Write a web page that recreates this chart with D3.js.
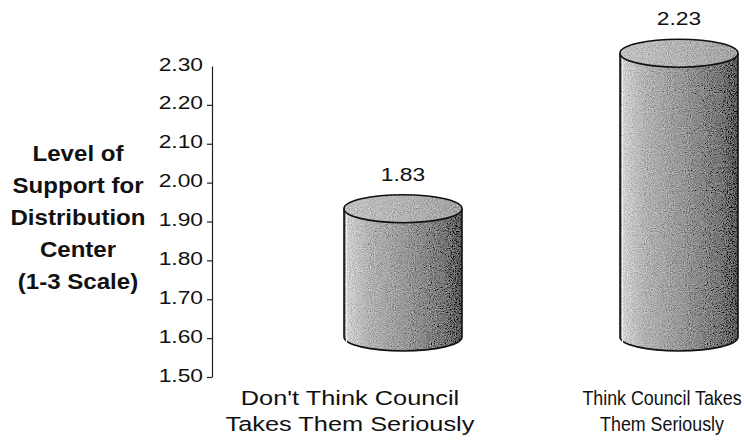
<!DOCTYPE html>
<html>
<head>
<meta charset="utf-8">
<script src="https://cdn.jsdelivr.net/npm/d3@7"></script>
<style>
  html, body { margin: 0; padding: 0; background: #fff; }
  svg { display: block; }
  text { font-family: "Liberation Sans", Arial, sans-serif; fill: #111; }
</style>
</head>
<body>
<script>
// Chart data
const categories = ["dont", "think"];
const categoryLines = [
  ["Don't Think Council", "Takes Them Seriously"],
  ["Think Council Takes", "Them Seriously"]
];
const values = [1.83, 2.23];
const yTicks = [1.5, 1.6, 1.7, 1.8, 1.9, 2.0, 2.1, 2.2, 2.3];
const titleLines = ["Level of", "Support for", "Distribution", "Center", "(1-3 Scale)"];

// Layout / style
const W = 744, H = 444;
const stretch = 1.2;             // wide lettering of the original typeface
const catStretch = [1.3, 0.87];  // category captions, the right one squeezed to fit the page
const catSize = [19.5, 20.5];
const depth = 40;                // 3-D floor sits behind the axis plane
const barWidth = 118;
const capRy = 14;

const svg = d3.select("body").append("svg")
  .attr("width", W).attr("height", H);

const defs = svg.append("defs");

// side shading of the cylinders
const body = defs.append("linearGradient").attr("id", "bodyGrad")
  .attr("x1", "0").attr("x2", "1").attr("y1", "0").attr("y2", "0");
[[0, "#6a6a6a"], [0.03, "#d0d0d0"], [0.2, "#b4b4b4"], [0.55, "#969696"], [0.85, "#767676"], [1, "#585858"]]
  .forEach(([o, c]) => body.append("stop").attr("offset", o).attr("stop-color", c));

const cap = defs.append("linearGradient").attr("id", "capGrad")
  .attr("x1", "0").attr("x2", "1").attr("y1", "0").attr("y2", "0");
[[0, "#c2c2c2"], [0.5, "#b4b4b4"], [1, "#a4a4a4"]]
  .forEach(([o, c]) => cap.append("stop").attr("offset", o).attr("stop-color", c));

// printed grain on the cylinder surfaces
const grain = defs.append("filter").attr("id", "grain")
  .attr("x", "0").attr("y", "0").attr("width", "100%").attr("height", "100%");
grain.append("feTurbulence").attr("type", "fractalNoise")
  .attr("baseFrequency", "0.95").attr("numOctaves", 2).attr("seed", 7).attr("result", "n");
grain.append("feColorMatrix").attr("in", "n").attr("type", "matrix")
  .attr("values", "0.33 0.33 0.33 0 0 0.33 0.33 0.33 0 0 0.33 0.33 0.33 0 0 0 0 0 0 1")
  .attr("result", "g");
grain.append("feComposite").attr("in", "SourceGraphic").attr("in2", "g")
  .attr("operator", "arithmetic")
  .attr("k1", 0).attr("k2", 1).attr("k3", 1.2).attr("k4", -0.6).attr("result", "m");
grain.append("feComposite").attr("in", "m").attr("in2", "SourceGraphic").attr("operator", "in");

// Scales
const y = d3.scaleLinear().domain([1.5, 2.3]).range([377, 66]);
const x = d3.scalePoint().domain(categories).range([403, 679]);
const xLabel = d3.scalePoint().domain(categories).range([350, 662]);

// Value axis
const axisX = 212;
const axis = svg.append("g")
  .attr("transform", `translate(${axisX},0)`)
  .call(d3.axisLeft(y).tickValues(yTicks).tickFormat(d3.format(".2f"))
    .tickSize(5).tickSizeOuter(0));
axis.select(".domain").attr("stroke", "#222").attr("stroke-width", 1.2);
axis.selectAll(".tick line").attr("stroke", "#222").attr("stroke-width", 1.2)
  .attr("display", d => d === 2.3 ? "none" : null);
axis.selectAll(".tick text")
  .attr("x", null).attr("dy", null)
  .attr("transform", `translate(-9,4) scale(${stretch},1)`)
  .attr("text-anchor", "end")
  .attr("font-size", 19)
  .attr("fill", "#111");

// Axis title
const title = svg.append("g").attr("transform", "translate(78,0)");
title.selectAll("text").data(titleLines).join("text")
  .attr("transform", (d, i) => `translate(0,${161 + i * 32}) scale(1.12,1)`)
  .attr("text-anchor", "middle")
  .attr("font-size", 21.5)
  .attr("font-weight", "bold")
  .text(d => d);

// Cylinders
const bars = svg.selectAll("g.bar").data(values).join("g")
  .attr("class", "bar")
  .attr("transform", (d, i) => `translate(${x(categories[i])},0)`);

const rx = barWidth / 2;
const baseY = y(1.5) - depth;

bars.append("path")
  .attr("d", d => {
    const top = y(d) - depth;
    return `M${-rx},${top} L${-rx},${baseY} A${rx},${capRy} 0 0 0 ${rx},${baseY} L${rx},${top} Z`;
  })
  .attr("fill", "url(#bodyGrad)")
  .attr("filter", "url(#grain)");

// outline of the sides and lower rim
bars.append("path")
  .attr("d", d => {
    const top = y(d) - depth;
    return `M${-rx},${top} L${-rx},${baseY} A${rx},${capRy} 0 0 0 ${rx},${baseY} L${rx},${top}`;
  })
  .attr("fill", "none").attr("stroke", "#111").attr("stroke-width", 1.6);

// highlight along the left rim
bars.append("line")
  .attr("x1", -rx + 2.5).attr("x2", -rx + 2.5)
  .attr("y1", d => y(d) - depth + 4).attr("y2", baseY + 6)
  .attr("stroke", "#f0f0f0").attr("stroke-width", 1.2);

bars.append("ellipse")
  .attr("cx", 0).attr("cy", d => y(d) - depth)
  .attr("rx", rx).attr("ry", capRy)
  .attr("fill", "url(#capGrad)")
  .attr("filter", "url(#grain)");
bars.append("ellipse")
  .attr("cx", 0).attr("cy", d => y(d) - depth)
  .attr("rx", rx).attr("ry", capRy)
  .attr("fill", "none").attr("stroke", "#111").attr("stroke-width", 1.6);

// Value labels
bars.append("text")
  .attr("transform", d => `translate(0,${y(d) - depth - capRy - 14}) scale(${stretch},1)`)
  .attr("text-anchor", "middle")
  .attr("font-size", 19)
  .text(d => d3.format(".2f")(d));

// Category labels
const cats = svg.selectAll("g.cat").data(categories).join("g")
  .attr("class", "cat")
  .attr("transform", d => `translate(${xLabel(d)},0)`);
cats.each(function (d, i) {
  d3.select(this).selectAll("text").data(categoryLines[i]).join("text")
    .attr("transform", (t, j) => `translate(0,${405 + j * 26}) scale(${catStretch[i]},1)`)
    .attr("text-anchor", "middle")
    .attr("font-size", catSize[i])
    .text(t => t);
});
</script>
</body>
</html>
